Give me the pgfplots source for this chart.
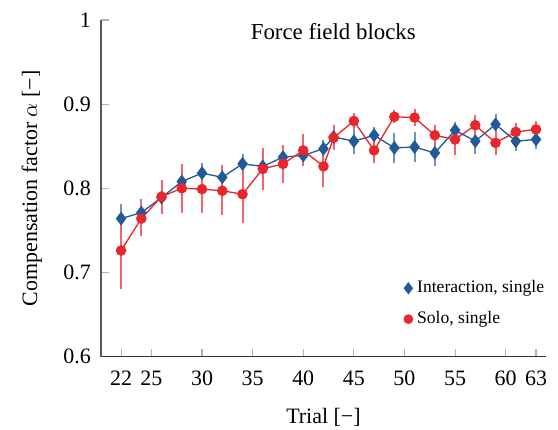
\documentclass[border=0pt]{standalone}
\usepackage{pgfplots}
\pgfplotsset{compat=1.18}
\usepackage{fontspec}
\setmainfont{Liberation Serif}
\definecolor{bl}{HTML}{215A96}
\definecolor{rd}{HTML}{E8262E}
\begin{document}
\begin{tikzpicture}
\begin{axis}[
  scale only axis,
  width=202.7pt, height=153.2pt,
  xmin=20, xmax=64, ymin=0.6, ymax=1,
  axis x line*=bottom, axis y line*=left,
  axis line style={draw=black!65, line width=0.7pt},
  x axis line style={draw=black!80},
  xtick={22,25,30,35,40,45,50,55,60,63},
  ytick={0.6,0.7,0.8,0.9,1},
  tick align=inside,
  major tick length=3.5pt,
  tick style={draw=black!30, line width=0.5pt},
  /pgf/number format/assume math mode=true,
  tick label style={font=\normalsize},
  xticklabel style={yshift=-3pt},
  yticklabel style={xshift=-1pt},
  xlabel={Trial [\textminus]},
  ylabel={Compensation factor $\alpha$ [\textminus]},
  xlabel style={yshift=-3.5pt},
  ylabel style={yshift=3pt},
  title={Force field blocks},
  title style={at={(0.522,0.926)}, anchor=center, font=\fontsize{10.4}{12}\selectfont},
  legend style={draw=none, fill=none, at={(0.843,0.157)}, anchor=center, font=\footnotesize, row sep=3pt, inner sep=0pt},
  legend cell align=left,
]
\addlegendimage{only marks, mark=diamond*, mark size=2.5pt, color=bl}
\addlegendentry{Interaction, single}
\addlegendimage{only marks, mark=*, mark size=2pt, color=rd}
\addlegendentry{Solo, single}
\addplot[forget plot, color=bl, line width=0.6pt, mark=diamond*, mark size=2.7pt,
  error bars/.cd, y dir=both, y explicit, error mark=none,
  error bar style={color=bl!65, line width=0.9pt}]
  table[x=x, y=y, y error=e] {
x y e
22 0.764 0.017
24 0.771 0.016
26 0.789 0.015
28 0.808 0.012
30 0.818 0.012
32 0.813 0.015
34 0.829 0.012
36 0.826 0.012
38 0.837 0.013
40 0.839 0.013
42 0.847 0.010
43 0.861 0.010
45 0.856 0.015
47 0.863 0.010
49 0.848 0.018
51 0.849 0.018
53 0.842 0.015
55 0.869 0.010
57 0.856 0.015
59 0.876 0.012
61 0.856 0.012
63 0.858 0.011
};
\addplot[forget plot, color=rd, line width=0.6pt, mark=*, mark size=2.1pt,
  error bars/.cd, y dir=both, y explicit, error mark=none,
  error bar style={color=rd!70, line width=0.9pt}]
  table[x=x, y=y, y error=e] {
x y e
22 0.726 0.046
24 0.764 0.021
26 0.790 0.020
28 0.800 0.029
30 0.799 0.028
32 0.797 0.029
34 0.793 0.034
36 0.823 0.025
38 0.829 0.023
40 0.845 0.019
42 0.826 0.024
43 0.860 0.015
45 0.880 0.010
47 0.845 0.015
49 0.885 0.008
51 0.884 0.010
53 0.863 0.012
55 0.858 0.018
57 0.875 0.012
59 0.854 0.015
61 0.867 0.010
63 0.870 0.010
};
\end{axis}
\pgfresetboundingbox
\path (current axis.south west) ++(-45.9pt,-33pt) rectangle ++(254pt,195.3pt);
\end{tikzpicture}
\end{document}
